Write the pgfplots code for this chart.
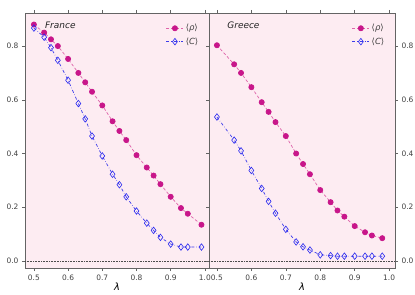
\documentclass[border=0pt]{standalone}
\usepackage{fontspec}
\setmainfont{DejaVu Sans}
\setsansfont{DejaVu Sans}
\usepackage{pgfplots}
\pgfplotsset{compat=1.18}
\definecolor{bgpink}{RGB}{253,236,242}
\definecolor{rhoc}{RGB}{200,22,138}
\definecolor{rhol}{RGB}{222,100,170}
\definecolor{cc}{RGB}{40,40,240}
\definecolor{cl}{RGB}{60,60,235}
\definecolor{spine}{RGB}{100,100,100}
\pgfplotsset{
  panel/.style={
    scale only axis, height=255bp,
    axis background/.style={fill=bgpink},
    axis line style={spine, line width=0.6pt},
    tick align=outside, tick style={spine, line width=0.5pt},
    major tick length=3bp,
    ymin=-0.026, ymax=0.923,
    ytick={0,0.2,0.4,0.6,0.8},
    xtick={0.5,0.6,0.7,0.8,0.9,1.0},
    tick label style={font=\fontsize{7.5}{9}\selectfont, text=black!75},
    /pgf/number format/assume math mode=true,
    /pgf/number format/.cd, fixed, fixed zerofill, precision=1, /pgfplots/.cd,
    xlabel={\textit{λ}}, xlabel style={font=\fontsize{10}{12}\selectfont, yshift=4bp},
    legend style={draw=none, fill=none, font=\fontsize{8.5}{10}\selectfont, text=black!75,
      at={(0.97,0.972)}, anchor=north east, row sep=1.5pt,
      /tikz/every even column/.append style={column sep=2pt}},
    legend cell align=left,
    clip=false,
  },
  rhoplot/.style={rhol, densely dashed, line width=0.7pt, mark=*, mark size=2.6pt,
    mark options={solid, fill=rhoc, draw=rhoc}},
  cplot/.style={cl, dash dot, line width=0.7pt, mark=diamond, mark size=3.3pt,
    mark options={solid, draw=cc, fill=none, line width=0.6pt}},
}
\begin{document}
\begin{tikzpicture}
\path[use as bounding box] (-25bp,-27bp) rectangle (390bp,268bp);
\begin{axis}[panel, at={(0bp,0bp)}, anchor=south west, width=184bp,
  xmin=0.474, xmax=1.012]
\addplot[black!70, densely dotted, line width=0.6pt, forget plot] coordinates {(0.474,0) (1.012,0)};
\addplot[rhoplot] coordinates {
(0.50,0.880) (0.53,0.850) (0.55,0.825) (0.57,0.800) (0.60,0.752) (0.63,0.700)
(0.65,0.665) (0.67,0.630) (0.70,0.579) (0.73,0.520) (0.75,0.484) (0.77,0.450)
(0.80,0.394) (0.83,0.348) (0.85,0.318) (0.87,0.286) (0.90,0.239) (0.93,0.197)
(0.95,0.176) (0.99,0.135)};
\addlegendentry{⟨\textit{ρ}⟩}
\addplot[cplot] coordinates {
(0.50,0.867) (0.53,0.833) (0.55,0.794) (0.57,0.747) (0.60,0.673) (0.63,0.586)
(0.65,0.529) (0.67,0.465) (0.70,0.391) (0.73,0.323) (0.75,0.284) (0.77,0.239)
(0.80,0.186) (0.83,0.141) (0.85,0.114) (0.87,0.088) (0.90,0.063) (0.93,0.052)
(0.95,0.052) (0.99,0.052)};
\addlegendentry{⟨\textit{C}⟩}
\node[anchor=north west, font=\itshape\fontsize{9}{11}\selectfont, text=black!85] at (rel axis cs:0.09,0.978) {France};
\end{axis}
\begin{axis}[panel, at={(184bp,0bp)}, anchor=south west, width=186bp,
  xmin=0.477, xmax=1.017, yticklabel pos=right]
\addplot[black!70, densely dotted, line width=0.6pt, forget plot] coordinates {(0.477,0) (1.017,0)};
\addplot[rhoplot] coordinates {
(0.50,0.803) (0.55,0.732) (0.57,0.700) (0.60,0.647) (0.63,0.591) (0.65,0.555)
(0.67,0.517) (0.70,0.465) (0.73,0.400) (0.75,0.361) (0.77,0.323) (0.80,0.264)
(0.83,0.219) (0.85,0.188) (0.87,0.165) (0.90,0.130) (0.93,0.107) (0.95,0.095)
(0.98,0.085)};
\addlegendentry{⟨\textit{ρ}⟩}
\addplot[cplot] coordinates {
(0.50,0.536) (0.55,0.450) (0.57,0.410) (0.60,0.337) (0.63,0.270) (0.65,0.222)
(0.67,0.178) (0.70,0.118) (0.73,0.071) (0.75,0.053) (0.77,0.041) (0.80,0.023)
(0.83,0.020) (0.85,0.018) (0.87,0.018) (0.90,0.018) (0.93,0.018) (0.95,0.018)
(0.98,0.018)};
\addlegendentry{⟨\textit{C}⟩}
\node[anchor=north west, font=\itshape\fontsize{9}{11}\selectfont, text=black!85] at (rel axis cs:0.08,0.978) {Greece};
\end{axis}
\end{tikzpicture}
\end{document}
